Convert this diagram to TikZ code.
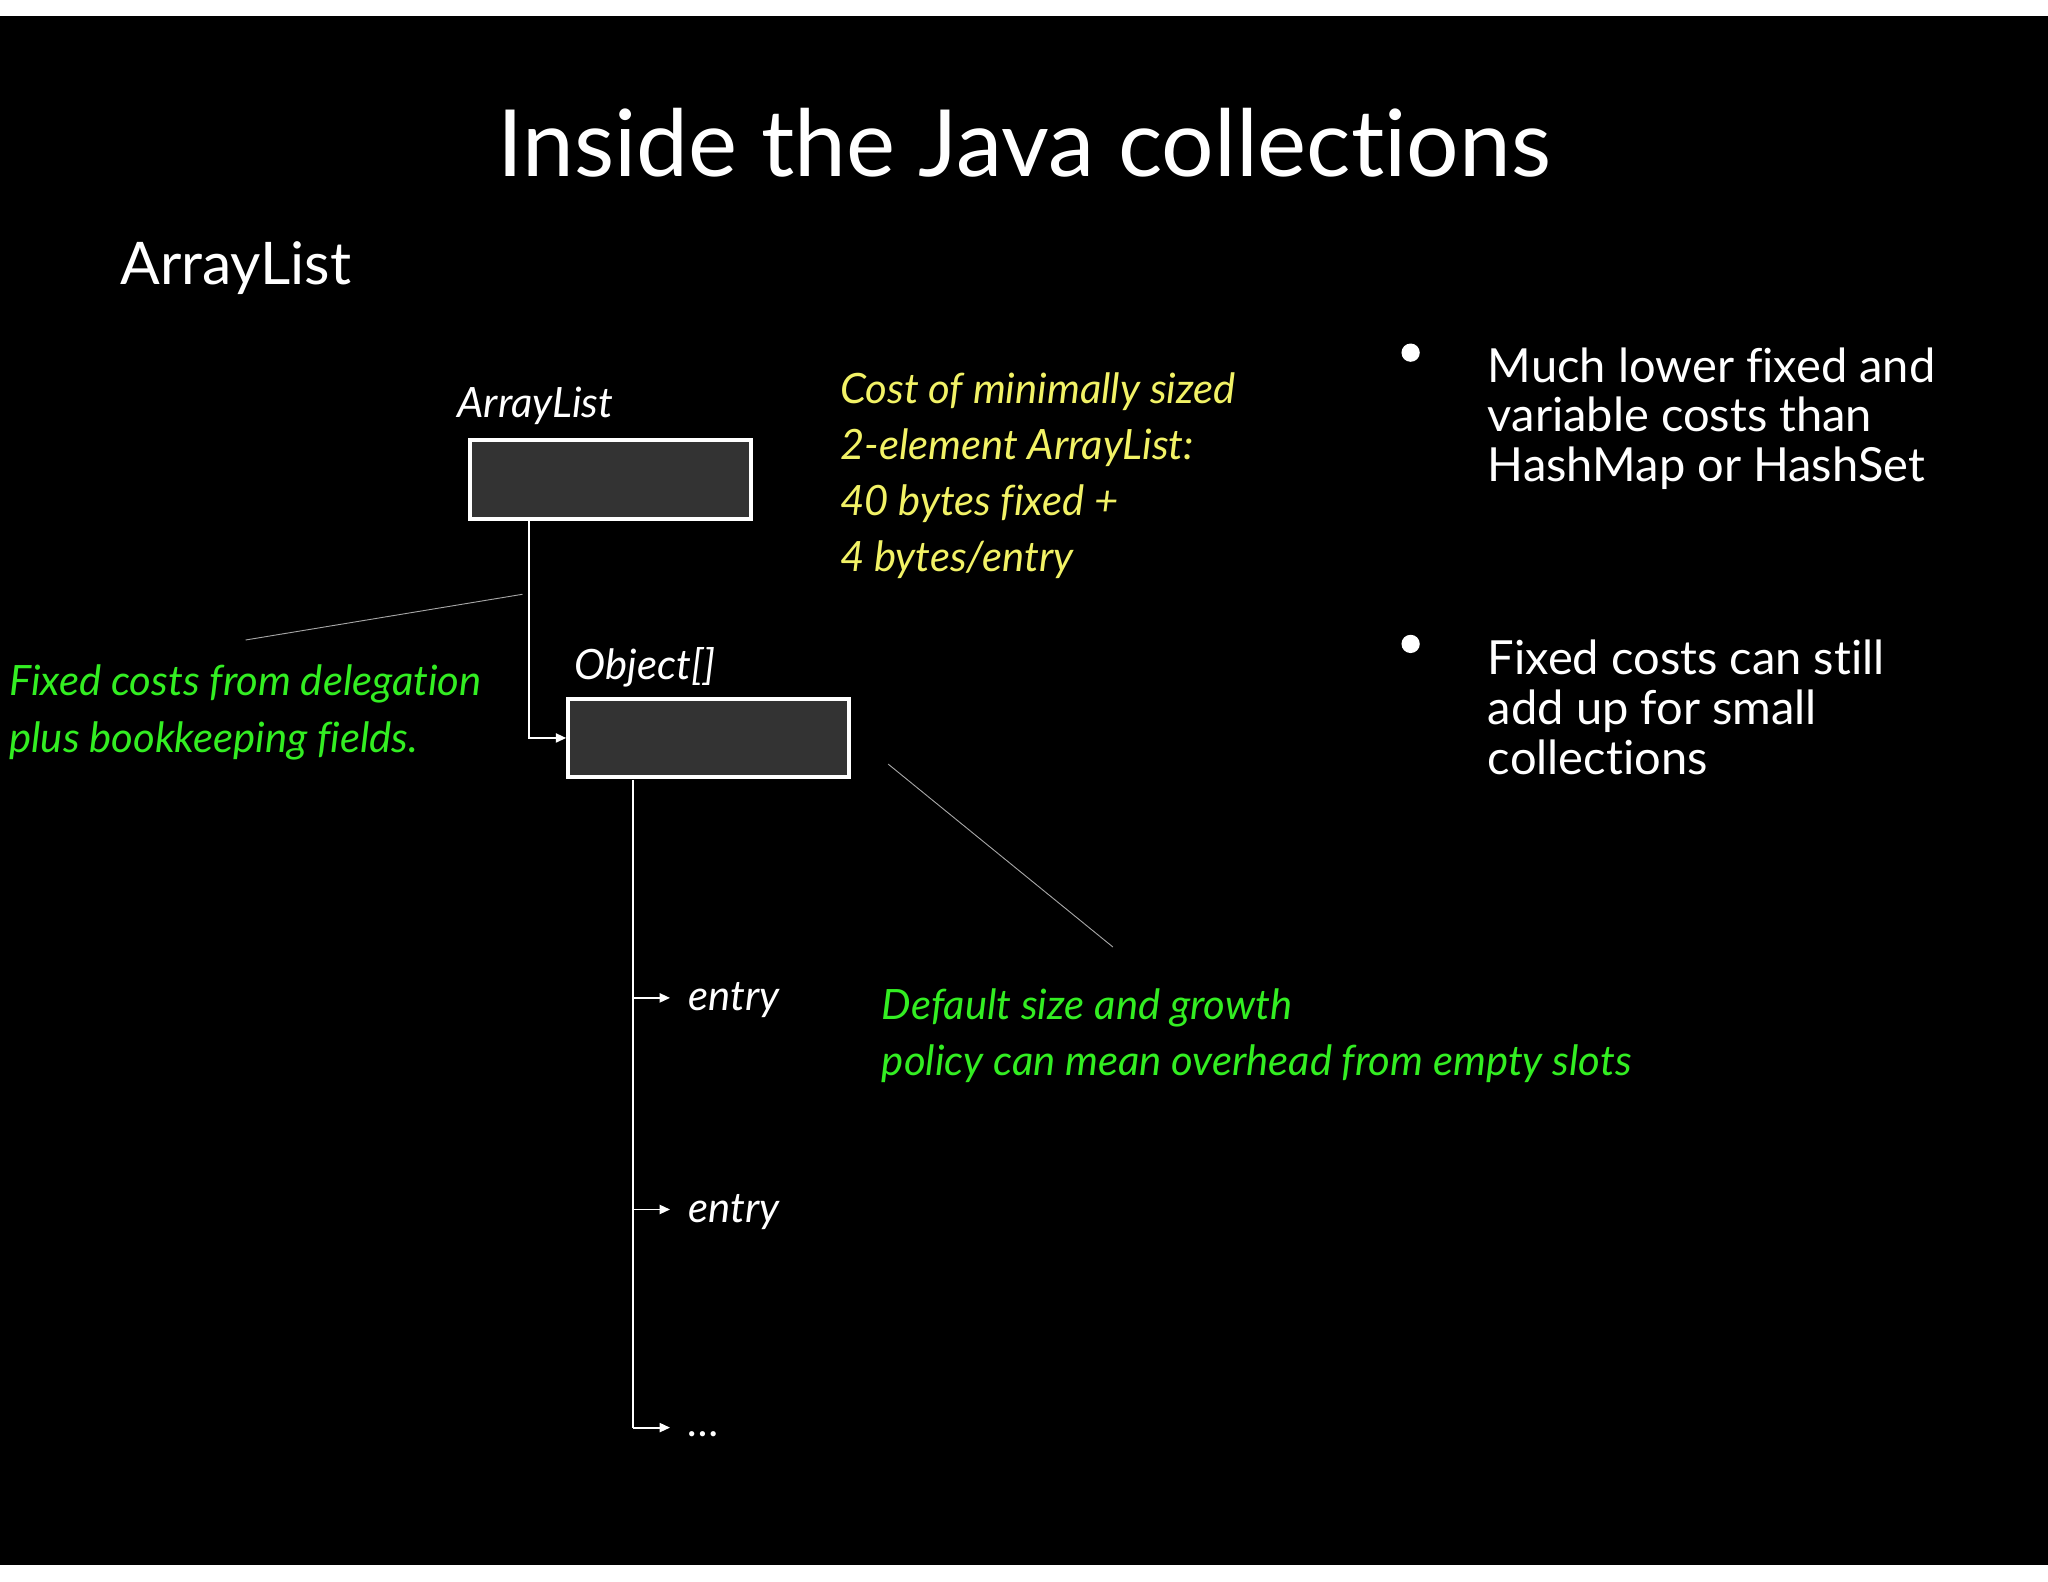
\documentclass[tikz,border=0pt]{standalone}
\usepackage{fontspec}
\setmainfont{Lato}[Ligatures={NoCommon,NoDiscretionary,NoRare}]
\usetikzlibrary{arrows.meta}
\definecolor{ylw}{HTML}{F2F266}
\definecolor{grn}{HTML}{33EE22}
\definecolor{boxg}{HTML}{333333}
\begin{document}
\begin{tikzpicture}[x=1pt,y=-1pt,
  txt/.style={anchor=base west,inner sep=0,text=white,font=\fontsize{36}{38}\selectfont},
  itl/.style={anchor=base west,inner sep=0,font=\fontsize{32}{43}\selectfont\itshape},
  box/.style={draw=white,line width=3pt,fill=boxg,minimum width=215pt,minimum height=60pt,inner sep=0},
  conn/.style={white,line width=1.5pt,-{Triangle[length=8pt,width=7pt]}},
  pointer/.style={gray!70,line width=0.7pt}]
\useasboundingbox (0,0) rectangle (1568,1211);
\fill[white] (0,0) rectangle (1568,1211);
\fill[black] (0,12) rectangle (1568,1198);
\node[anchor=base,inner sep=0,text=white,font=\fontsize{71}{80}\selectfont] (title) at (784,135) {Inside the Java collections};
\node[txt,font=\fontsize{45}{50}\selectfont] (h) at (92,218) {ArrayList};
\node[box] (b1) at (467.5,367) {};
\node[box] (b2) at (542.5,565) {};
\node[itl,text=white] (l1) at (350,320) {ArrayList};
\node[itl,text=white] (l2) at (440,520) {Object[]};
\coordinate (c1) at (405,397);
\draw[conn] (c1) |- (b2.west);
\coordinate (v) at (485,597);
\node[itl,text=white] (e1) at (527,774) {entry};
\node[itl,text=white] (e2) at (527,936) {entry};
\node[itl,text=white] (e3) at (527,1100) {\dots};
\coordinate (t1) at (485,764);
\coordinate (t2) at (485,926);
\coordinate (t3) at (485,1093);
\draw[white,line width=1.5pt] (v) -- (t3);
\draw[conn] (t1) -- (513,764);
\draw[conn] (t2) -- (513,926);
\draw[conn] (t3) -- (513,1093);
\node[itl,text=ylw,align=left,anchor=north west] (y) at (643,285) {Cost of minimally sized\\2-element ArrayList:\\40 bytes fixed +\\4 bytes/entry};
\node[itl,text=grn,align=left,anchor=north west] (g1) at (7,509) {Fixed costs from delegation\\plus bookkeeping fields.};
\node[itl,text=grn,align=left,anchor=north west] (g2) at (675,757) {Default size and growth\\policy can mean overhead from empty slots};
\coordinate (p1) at (188,490);
\coordinate (p2) at (400,455);
\coordinate (p3) at (680,585);
\coordinate (p4) at (852,725);
\draw[pointer] (p1) -- (p2);
\draw[pointer] (p3) -- (p4);
\fill[white] (1080,270) circle (7);
\fill[white] (1080,493) circle (7);
\node[txt,align=left,anchor=north west] (bt1) at (1139,266) {Much lower fixed and\\variable costs than\\HashMap or HashSet};
\node[txt,align=left,anchor=north west] (bt2) at (1139,490) {Fixed costs can still\\add up for small\\collections};
\end{tikzpicture}
\end{document}
